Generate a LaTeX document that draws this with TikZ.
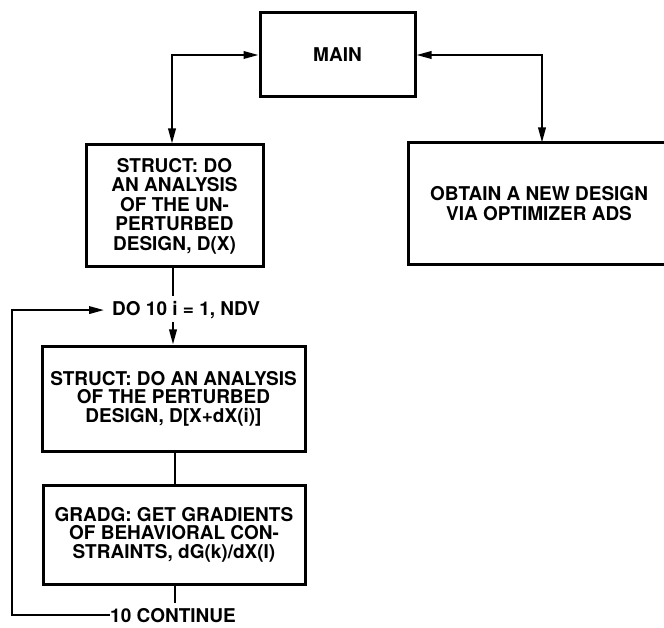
\documentclass[tikz,border=0pt]{standalone}
\usepackage{fontspec}
\setmainfont{TeX Gyre Heros}
\usetikzlibrary{arrows.meta}
\begin{document}
\begin{tikzpicture}[x=1pt,y=-1pt,
  box/.style={draw,line width=3pt,rectangle,inner sep=0pt,align=center,font=\fontsize{19}{19}\selectfont\bfseries},
  lbl/.style={inner sep=0pt,font=\fontsize{19}{19}\selectfont\bfseries},
  conn/.style={line width=2pt},
  border/.style={line width=3pt},
  tip/.style={-{Triangle[length=15pt,width=7.5pt]}},
  tips/.style={{Triangle[length=15pt,width=7.5pt]}-{Triangle[length=15pt,width=7.5pt]}}
]
\useasboundingbox (0,0) rectangle (664,628);
\clip (0,0) rectangle (664,628);

\node[box,minimum width=155pt,minimum height=84pt] (main) at (337.5,55) {MAIN};
\node[box,minimum width=177pt,minimum height=122pt,font=\fontsize{19}{19.5}\selectfont\bfseries] (s1) at (174.5,206)
  {STRUCT: DO\\AN ANALYSIS\\OF THE UN-\\PERTURBED\\DESIGN, D(X)};
\node[box,draw=none,minimum width=258pt,minimum height=119pt,font=\fontsize{19}{20}\selectfont\bfseries] (obtain) at (539,203.5)
  {OBTAIN A NEW DESIGN\\VIA OPTIMIZER ADS};
\draw[border] ([xshift=20pt]obtain.north east) -- (obtain.north west) -- (obtain.south west) -- ([xshift=20pt]obtain.south east);
\node[lbl,anchor=base west] (do) at (112,315.5) {DO 10 i = 1, NDV};
\node[box,minimum width=263pt,minimum height=105pt,font=\fontsize{19}{18.5}\selectfont\bfseries] (s2) at (173.5,398.5)
  {STRUCT: DO AN ANALYSIS\\OF THE PERTURBED\\DESIGN, D[X+dX(i)]};
\node[box,minimum width=262pt,minimum height=99pt,font=\fontsize{19}{18.5}\selectfont\bfseries] (gradg) at (174,534.5)
  {GRADG: GET GRADIENTS\\OF BEHAVIORAL CON-\\STRAINTS, dG(k)/dX(I)};
\node[lbl,anchor=base west] (cont) at (110,622) {10 CONTINUE};

\coordinate (a1) at (173,296);
\coordinate (a2) at (173,322);
\coordinate (a3) at (175,603);
\coordinate (lb) at (12,616);

\draw[conn,tips] (main.west) -| ([xshift=-2.5pt]s1.north);
\draw[conn,tips] (main.east) -| ([xshift=3pt]obtain.north);
\draw[conn] (s1.south -| a1) -- (a1);
\draw[conn,tip] (a2) -- (a2 |- s2.north);
\draw[conn] (s2.south -| a3) -- (gradg.north -| a3);
\draw[conn] (gradg.south -| a3) -- (a3);
\draw[conn,tip] (cont.west) -- (cont.west -| lb) -- (lb |- do.west) -- ([xshift=-8pt]do.west);
\end{tikzpicture}
\end{document}
